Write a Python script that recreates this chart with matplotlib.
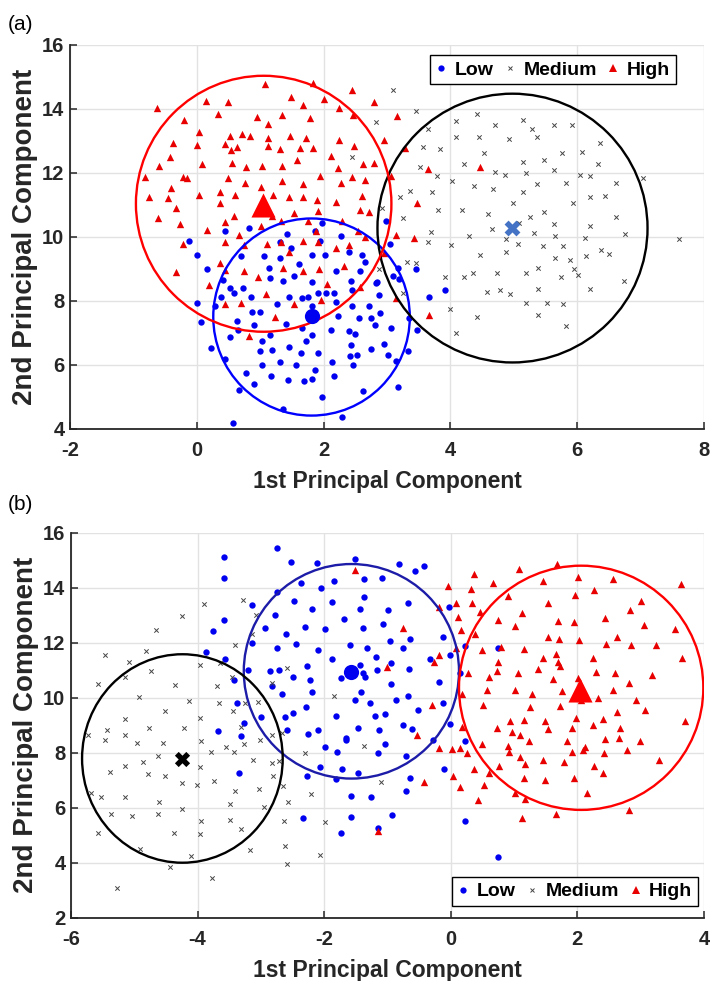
import numpy as np
import matplotlib
matplotlib.use("Agg")
import matplotlib.pyplot as plt
from matplotlib.patches import Ellipse
from matplotlib.lines import Line2D

plt.rcParams['font.family'] = ['Liberation Sans', 'DejaVu Sans']
plt.rcParams['axes.unicode_minus'] = False

# ---------------- Panel (a) data ----------------
a_high = [(-0.63,14.01),(0.15,14.24),(0.5,14.2),(1.08,14.76),(1.83,14.79),(2.45,14.58),(2.8,14.2),(1.49,14.36),
(1.68,14.11),(2.0,14.3),(2.24,14.01),(2.47,13.79),(-0.2,13.64),(0.33,13.82),(0.95,13.75),(1.12,13.52),(1.35,13.79),
(1.78,13.7),(0.03,13.28),(-0.38,12.92),(0.0,12.86),(0.44,12.9),(0.53,13.16),(0.72,13.21),(0.84,13.16),(1.12,13.07),
(1.47,13.16),(1.73,13.1),(1.12,12.84),(0.64,12.81),(0.54,12.71),(1.32,12.73),(1.63,12.76),(1.83,12.78),(2.25,13.02),
(2.48,12.84),(-0.42,12.5),(2.12,12.52),(1.58,12.4),(-0.6,12.21),(0.08,12.27),(0.56,12.31),(0.77,12.17),(1.03,12.22),
(1.35,12.22),(2.23,12.14),(2.62,12.26),(2.8,12.29),(-0.81,11.88),(-0.22,11.88),(-0.16,11.84),(0.5,11.82),(1.94,11.9),
(2.45,11.88),(2.65,11.77),(-0.4,11.53),(0.76,11.67),(1.02,11.56),(1.35,11.74),(1.67,11.64),(2.28,11.67),(-0.75,11.25),
(-0.46,11.22),(0.04,11.3),(0.36,11.41),(0.61,11.3),(1.2,11.3),(1.46,11.25),(1.68,11.25),(1.89,11.15),(2.6,11.28),
(-0.33,10.89),(0.36,11.04),(2.2,11.09),(2.57,10.83),(2.72,10.76),(-0.61,10.59),(0.58,10.65),(1.19,10.65),(1.53,10.73),
(1.91,10.8),(-0.27,10.39),(0.45,10.45),(1.02,10.34),(1.33,10.49),(1.76,10.49),(2.29,10.49),(0.16,10.21),(0.66,10.05),
(1.88,10.18),(2.54,10.19),(2.66,10.0),(-0.22,9.77),(0.44,9.82),(0.75,9.74),(1.11,9.77),(1.33,9.82),(1.67,9.88),
(1.91,9.82),(2.2,9.66),(2.4,9.74),(1.45,9.51),(-0.33,8.89),(0.37,9.17),(0.45,8.96),(0.74,8.93),(1.36,9.01),(1.68,8.93),
(1.92,8.99),(2.33,9.1),(0.96,8.75),(0.19,8.49),(2.05,8.52),(2.58,8.44),(1.09,8.2),(0.45,7.9),(0.69,7.92),(1.53,7.9),
(1.96,8.03),(1.24,7.48),(0.82,6.9),(3.15,10.05),(3.43,9.97),(2.95,9.48),(3.15,8.08),(3.67,7.56),(3.16,13.78),
(2.96,13.03),(3.29,12.76),(3.64,12.13),(3.06,11.9),(3.47,11.06),(4.46,12.17)]

a_low = [(0.44,10.18),(0.83,10.26),(1.43,10.1),(1.98,10.44),(1.86,10.18),(2.28,10.02),(-0.12,9.86),(0.0,9.43),
(0.16,8.98),(0.41,8.65),(0.52,8.41),(0.58,8.23),(0.38,8.11),(0.29,7.84),(0.0,7.93),(0.07,7.35),(0.23,6.52),(0.45,6.18),
(0.52,6.88),(0.64,7.37),(0.65,7.09),(0.73,8.41),(0.7,9.4),(0.86,8.11),(0.87,7.66),(0.99,7.66),(0.9,7.23),(1.06,9.4),
(1.14,9.01),(1.31,9.32),(1.32,9.84),(1.48,9.66),(1.15,8.72),(1.36,8.63),(1.53,8.77),(1.62,9.14),(1.81,9.43),(1.95,9.86),
(2.02,9.43),(2.19,8.93),(2.4,9.51),(2.61,9.43),(2.66,9.2),(2.43,8.63),(2.58,8.93),(2.45,8.34),(1.81,8.57),(1.46,8.11),
(1.66,8.08),(1.76,8.13),(1.91,8.23),(2.04,8.23),(2.16,8.23),(2.2,7.97),(1.27,7.9),(1.81,7.82),(2.45,7.82),(2.72,7.84),
(2.83,8.55),(2.23,7.53),(2.56,7.45),(2.75,7.45),(2.81,7.25),(1.41,7.27),(1.66,7.14),(2.11,7.09),(2.4,7.04),(2.49,6.96),
(1.16,6.94),(1.03,6.73),(1.82,6.94),(1.72,6.75),(2.43,6.62),(1.0,6.44),(1.19,6.47),(1.46,6.54),(1.65,6.36),(1.91,6.36),
(2.42,6.26),(2.53,6.29),(2.75,6.5),(1.03,6.0),(1.32,6.07),(1.57,6.0),(2.13,6.1),(2.46,6.0),(0.77,5.74),(0.91,5.4),
(1.17,5.64),(1.44,5.51),(1.69,5.48),(1.81,5.56),(1.86,5.84),(2.17,5.66),(0.67,5.2),(1.98,4.99),(2.62,5.19),(1.36,4.63),
(2.29,4.37),(0.57,4.18),(3.04,9.76),(3.18,9.01),(3.1,8.78),(3.19,8.68),(3.45,8.98),(2.84,8.57),(2.88,8.18),(3.66,8.12),
(3.91,8.34),(2.89,7.63),(3.07,7.16),(3.34,7.45),(3.47,7.09),(2.96,6.65),(3.01,6.31),(3.33,6.44),(3.15,6.12),(3.17,5.29),
(2.99,10.5)]

a_med = [(3.09,14.58),(3.46,13.94),(2.82,13.6),(4.09,13.63),(4.42,13.84),(4.71,13.48),(5.15,13.65),(5.28,13.36),
(5.63,13.5),(5.92,13.5),(3.64,13.36),(4.09,13.11),(4.45,13.11),(4.92,13.05),(5.37,13.13),(3.57,12.8),(3.83,12.73),
(4.53,12.61),(5.76,12.61),(6.07,12.66),(6.36,12.92),(5.47,12.4),(5.14,12.35),(3.52,12.18),(4.22,12.27),(4.71,12.01),
(4.86,11.94),(5.2,11.99),(5.64,12.1),(6.33,12.27),(6.05,11.93),(6.21,11.9),(3.79,11.9),(4.03,11.75),(4.37,11.59),
(4.68,11.49),(5.15,11.4),(5.36,11.66),(5.83,11.68),(6.62,11.68),(7.04,11.82),(3.37,11.42),(3.71,11.4),(3.2,11.23),
(4.99,11.05),(5.94,11.05),(6.2,11.24),(6.44,11.26),(2.92,10.9),(3.81,10.82),(4.19,10.85),(4.59,10.7),(5.25,10.62),
(5.47,10.77),(3.26,10.57),(5.63,10.41),(6.21,10.34),(6.62,10.62),(5.08,10.43),(4.66,10.23),(3.7,10.15),(4.29,10.01),
(5.32,10.13),(5.65,10.01),(6.76,10.07),(7.61,9.94),(6.12,9.96),(4.87,9.94),(3.64,9.82),(4.01,9.74),(5.07,9.76),
(5.46,9.72),(5.77,9.72),(4.47,9.43),(4.87,9.51),(5.65,9.35),(5.89,9.27),(6.14,9.41),(6.37,9.58),(6.5,9.46),(3.31,9.22),
(3.45,9.17),(2.87,8.98),(3.91,8.73),(4.21,8.73),(4.36,8.88),(4.74,8.88),(5.19,8.88),(5.39,9.01),(5.75,8.73),(5.95,8.98),
(6.01,8.8),(6.74,8.63),(3.26,8.23),(4.58,8.26),(4.79,8.34),(4.94,8.21),(5.39,8.37),(6.2,8.37),(5.19,7.94),(5.53,7.92),
(5.78,7.9),(4.0,7.75),(4.42,7.48),(5.39,7.56),(5.83,7.22),(4.09,6.99),(2.45,12.48)]

# cluster centres and circle radii (x-radius, y-radius) for panel (a): Low, Medium, High
a_centres = [(1.81, 7.51), (4.98, 10.26), (1.04, 10.99)]
a_circle_centres = [(1.81, 7.49), (4.98, 10.27), (1.055, 11.03)]
a_circle_radii = [(1.55, 3.08), (2.13, 4.20), (2.015, 4.00)]

# ---------------- Panel (b) data ----------------
b_low = [(-3.58,15.11),(-3.59,14.36),(-2.75,15.43),(-2.52,14.95),(-2.12,14.91),(-1.51,15.05),(-1.37,14.3),(-1.85,14.26),
(-2.05,13.98),(-2.37,14.18),(-2.75,13.85),(-3.14,13.37),(-3.59,12.84),(-3.76,12.42),(-2.48,13.51),(-2.2,13.22),
(-1.87,13.49),(-1.44,13.22),(-1.37,13.67),(-2.78,13.0),(-2.94,12.52),(-2.31,12.58),(-1.98,12.49),(-1.68,12.86),
(-1.38,12.55),(-2.61,12.3),(-3.14,12.0),(-3.86,11.67),(-2.45,11.97),(-2.75,11.79),(-2.09,11.73),(-1.59,11.91),
(-1.32,11.82),(-3.56,11.4),(-1.88,11.39),(-1.43,11.2),(-1.18,11.48),(-3.2,11.0),(-2.86,10.97),(-2.72,11.02),
(-2.27,11.15),(-2.49,10.75),(-2.23,10.63),(-1.73,10.73),(-1.38,10.91),(-1.35,10.75),(-3.42,10.63),(-2.83,10.41),
(-2.67,10.12),(-2.2,10.21),(-1.42,10.21),(-1.52,9.9),(-1.28,9.81),(-3.37,9.81),(-2.28,9.66),(-3.27,9.08),(-3.0,9.29),
(-2.62,9.29),(-2.49,9.44),(-1.82,9.32),(-1.2,9.32),(-3.67,8.78),(-3.31,8.59),(-2.59,8.81),(-2.25,8.69),(-2.09,8.81),
(-1.66,8.53),(-1.46,8.91),(-0.82,14.86),(-0.56,14.62),(-0.42,14.79),(-1.08,14.34),(-0.68,13.43),(-0.99,13.19),
(-0.03,13.28),(-1.07,12.67),(-0.65,12.15),(-0.96,12.05),(-0.76,11.82),(-0.12,12.19),(0.23,11.88),(0.75,11.81),
(-0.94,11.26),(-1.16,11.02),(-0.66,11.06),(-0.33,11.42),(-0.02,11.57),(0.15,10.9),(-0.95,10.51),(-0.18,10.57),
(-0.67,10.06),(-0.86,9.9),(-0.52,9.54),(-0.12,9.81),(-1.04,9.39),(-1.13,8.83),(-0.75,8.99),(-0.62,8.87),(-0.01,9.05),
(-0.28,8.47),(0.23,8.44),(-1.04,8.32),(-1.15,7.98),(-0.71,7.89),(-0.1,7.39),(-0.64,7.07),(-1.26,6.4),(-0.71,6.62),
(-0.93,5.73),(-1.15,5.28),(0.23,5.53),(0.75,4.22),(-1.99,8.22),(-1.79,8.04),(-1.66,8.46),(-2.07,7.49),(-1.72,7.39),
(-1.46,7.27),(-2.27,7.15),(-1.81,7.04),(-1.58,6.42),(-2.33,5.61),(-1.58,5.67),(-1.74,5.07),(-3.34,7.28)]

b_high = [(-1.51,14.64),(1.68,14.86),(1.08,14.67),(0.36,14.49),(-0.05,14.06),(0.66,14.18),(1.46,14.26),(2.01,14.4),
(2.57,14.32),(3.64,14.13),(0.32,13.95),(0.9,13.7),(1.96,13.73),(2.27,13.91),(3.0,13.51),(0.09,13.45),(0.33,13.45),
(-0.18,13.31),(0.46,13.1),(1.54,13.45),(2.83,13.19),(1.13,13.09),(0.12,12.92),(0.75,12.82),(1.7,12.78),(1.95,12.74),
(2.43,12.88),(3.05,12.66),(3.54,12.48),(-0.75,12.52),(1.02,12.6),(0.16,12.46),(0.39,12.3),(1.53,12.21),(1.71,12.12),
(2.03,12.09),(2.63,12.19),(2.45,11.97),(2.85,11.91),(3.24,11.93),(0.79,11.85),(1.16,11.76),(0.49,11.73),(0.08,11.79),
(1.66,11.6),(1.45,11.45),(2.24,11.45),(3.66,11.45),(-0.19,11.54),(1.69,11.28),(1.73,11.16),(-0.27,11.28),(0.74,11.28),
(1.38,11.06),(-1.01,11.12),(0.28,10.91),(0.73,10.96),(1.06,10.88),(2.29,10.94),(2.59,10.91),(3.18,10.81),(0.61,10.75),
(1.61,10.67),(2.01,10.72),(2.82,10.53),(0.57,10.29),(1.02,10.29),(1.75,10.23),(2.56,10.29),(0.17,10.15),(1.28,10.15),
(2.33,10.0),(2.05,9.9),(0.51,9.72),(1.25,9.66),(1.72,9.7),(2.93,9.9),(-0.3,9.72),(2.62,9.48),(3.07,9.56),(1.98,9.27),
(1.15,9.2),(1.49,9.17),(2.41,9.21),(3.7,9.15),(0.94,9.15),(0.73,8.89),(1.54,8.87),(1.92,8.89),(2.24,9.02),(2.67,8.89),
(0.96,8.75),(1.09,8.66),(-0.54,8.63),(0.17,8.95),(1.23,8.44),(1.83,8.44),(2.43,8.5),(2.66,8.54),(2.99,8.44),
(-0.18,8.16),(0.02,8.12),(0.15,8.16),(0.26,7.98),(0.5,8.32),(0.9,8.24),(0.92,8.01),(1.09,7.83),(1.18,7.59),(1.45,7.73),
(1.79,7.67),(1.92,8.01),(2.09,8.1),(2.12,8.22),(2.42,7.98),(2.78,8.1),(3.29,7.73),(2.27,7.52),(2.41,7.28),(0.37,7.39),
(0.76,7.52),(0.61,7.28),(0.03,7.15),(-0.42,6.95),(0.15,6.74),(0.52,6.82),(1.16,7.07),(1.49,7.01),(1.95,7.07),
(1.02,6.52),(1.18,6.32),(0.43,6.28),(2.16,6.52),(1.67,5.76),(1.13,5.61),(2.82,5.92),(-1.15,5.15)]

b_med = [(-3.9,13.4),(-4.25,12.98),(-4.66,12.46),(-3.29,13.57),(-3.08,13.0),(-3.41,11.93),(-3.14,12.3),(-5.46,11.54),
(-5.09,11.3),(-4.82,11.69),(-4.74,10.97),(-3.96,11.18),(-3.65,11.26),(-5.58,10.49),(-5.14,10.75),(-4.36,10.45),
(-3.69,10.41),(-3.45,10.75),(-2.58,11.09),(-2.83,10.53),(-4.92,10.02),(-4.13,9.88),(-3.66,9.81),(-3.25,9.81),
(-3.04,9.84),(-1.85,10.05),(-4.52,9.5),(-3.44,9.5),(-5.15,9.23),(-3.96,9.26),(-4.77,8.91),(-4.21,8.91),(-3.31,8.93),
(-5.73,8.66),(-5.43,8.81),(-5.14,8.63),(-2.83,8.63),(-2.67,8.71),(-5.46,8.46),(-4.95,8.34),(-4.54,8.34),(-3.94,8.42),
(-3.79,8.04),(-3.55,8.19),(-3.42,8.04),(-3.27,8.3),(-3.01,8.46),(-4.62,7.88),(-4.86,7.67),(-5.15,7.53),(-5.39,7.31),
(-4.79,7.22),(-4.52,7.15),(-3.96,7.49),(-3.74,6.98),(-3.12,7.73),(-2.83,7.64),(-2.72,7.71),(-2.81,7.16),(-2.31,7.98),
(-4.25,6.91),(-4.01,6.82),(-5.68,6.52),(-5.52,6.4),(-5.15,6.4),(-3.41,6.61),(-3.03,6.67),(-2.65,6.79),(-2.21,6.5),
(-4.61,6.22),(-3.49,6.13),(-2.57,6.19),(-2.95,6.04),(-5.36,5.77),(-5.03,5.7),(-4.62,5.77),(-4.24,5.94),(-3.94,5.53),
(-3.49,5.55),(-2.63,5.53),(-1.99,5.49),(-5.58,5.07),(-4.37,5.09),(-3.96,5.03),(-3.32,5.21),(-4.91,4.5),(-3.17,4.46),
(-2.62,4.62),(-4.11,4.24),(-2.07,4.28),(-4.43,3.85),(-2.58,3.95),(-3.78,3.43),(-5.28,3.07),(-1.37,8.24),(-1.1,6.95)]

# cluster centres and circle radii for panel (b): Low, Medium, High
b_centres = [(-1.57, 10.94), (-4.24, 7.76), (2.04, 10.28)]
b_circle_centres = [(-1.57, 10.96), (-4.24, 7.79), (2.06, 10.36)]
b_circle_radii = [(1.70, 3.90), (1.585, 3.79), (1.93, 4.44)]

class_names = ['Low', 'Medium', 'High']
a_xticks = [-2, 0, 2, 4, 6, 8]
a_yticks = [4, 6, 8, 10, 12, 14, 16]
b_xticks = [-6, -4, -2, 0, 2, 4]
b_yticks = [2, 4, 6, 8, 10, 12, 14, 16]

TXT = '#262626'
BLUE = '#0000f0'
RED = '#e80000'
GREY = '#454545'

fig = plt.figure(figsize=(7.12, 9.81), dpi=100)
ax_a = fig.add_axes([0.0983, 0.563, 0.8904, 0.3914])
ax_b = fig.add_axes([0.0997, 0.0645, 0.889, 0.3925])


def draw_panel(ax, low, med, high, centres, cc, rr, xt, yt, circle_cols, centre_styles):
    low = np.array(low); med = np.array(med); high = np.array(high)
    ax.scatter(low[:, 0], low[:, 1], s=21, marker='o', color=BLUE, linewidths=0, zorder=3)
    ax.scatter(med[:, 0], med[:, 1], s=10, marker='x', color=GREY, linewidths=0.7, zorder=3)
    ax.scatter(high[:, 0], high[:, 1], s=28, marker='^', color=RED, linewidths=0, zorder=3)
    for (cx, cy), (rx, ry), col in zip(cc, rr, circle_cols):
        ax.add_patch(Ellipse((cx, cy), 2 * rx, 2 * ry, fill=False, edgecolor=col, linewidth=1.7, zorder=4))
    for (x, y), (mk, s, col) in zip(centres, centre_styles):
        ax.scatter([x], [y], s=s, marker=mk, color=col, linewidths=0, zorder=5)
    ax.set_xlim(xt[0], xt[-1]); ax.set_ylim(yt[0], yt[-1])
    ax.set_xticks(xt); ax.set_yticks(yt)
    ax.grid(True, color='#e2e2e2', linewidth=1.0, zorder=0)
    ax.set_axisbelow(True)
    for sp in ['top', 'right']:
        ax.spines[sp].set_visible(False)
    for sp in ['left', 'bottom']:
        ax.spines[sp].set_color(TXT); ax.spines[sp].set_linewidth(1.3)
    ax.tick_params(axis='both', direction='in', length=5, width=1.1, color=TXT,
                   labelsize=14.5, labelcolor=TXT)
    ax.tick_params(axis='x', pad=9)
    ax.tick_params(axis='y', pad=4)
    for lab in ax.get_xticklabels() + ax.get_yticklabels():
        lab.set_fontweight('bold')
    ax.set_xlabel('1st Principal Component', fontsize=16.5, fontweight='bold', color=TXT, labelpad=7)
    ax.set_ylabel('2nd Principal Component', fontsize=20, fontweight='bold', color=TXT, labelpad=3)


draw_panel(ax_a, a_low, a_med, a_high, a_centres, a_circle_centres, a_circle_radii, a_xticks, a_yticks,
           ['#0000ff', 'black', '#ff0000'],
           [('o', 120, BLUE), ('X', 130, '#4472c4'), ('^', 300, '#ff0000')])
draw_panel(ax_b, b_low, b_med, b_high, b_centres, b_circle_centres, b_circle_radii, b_xticks, b_yticks,
           ['#1c1ca8', 'black', '#ff0000'],
           [('o', 120, BLUE), ('X', 120, 'black'), ('^', 300, '#ff0000')])

handles = [Line2D([], [], linestyle='none', marker='o', markersize=4.5, color=BLUE, markeredgewidth=0),
           Line2D([], [], linestyle='none', marker='x', markersize=3.2, color=GREY, markeredgewidth=0.7),
           Line2D([], [], linestyle='none', marker='^', markersize=5.5, color=RED, markeredgewidth=0)]

for ax, loc, anchor in [(ax_a, 'upper right', (0.956, 0.973)), (ax_b, 'lower right', (0.991, 0.030))]:
    leg = ax.legend(handles, class_names, loc=loc, bbox_to_anchor=anchor, ncol=3, frameon=True,
                    fancybox=False, framealpha=1, edgecolor='black', borderaxespad=0,
                    prop={'size': 14, 'weight': 'bold'}, handlelength=0.5, handletextpad=0.45,
                    columnspacing=0.6, borderpad=0.3)
    leg.get_frame().set_linewidth(1.0)
    leg.set_zorder(10)

fig.text(0.011, 0.9755, '(a)', fontsize=15, va='center', ha='left', color='black')
fig.text(0.011, 0.486, '(b)', fontsize=15, va='center', ha='left', color='black')

fig.savefig('out.png', dpi=100)
